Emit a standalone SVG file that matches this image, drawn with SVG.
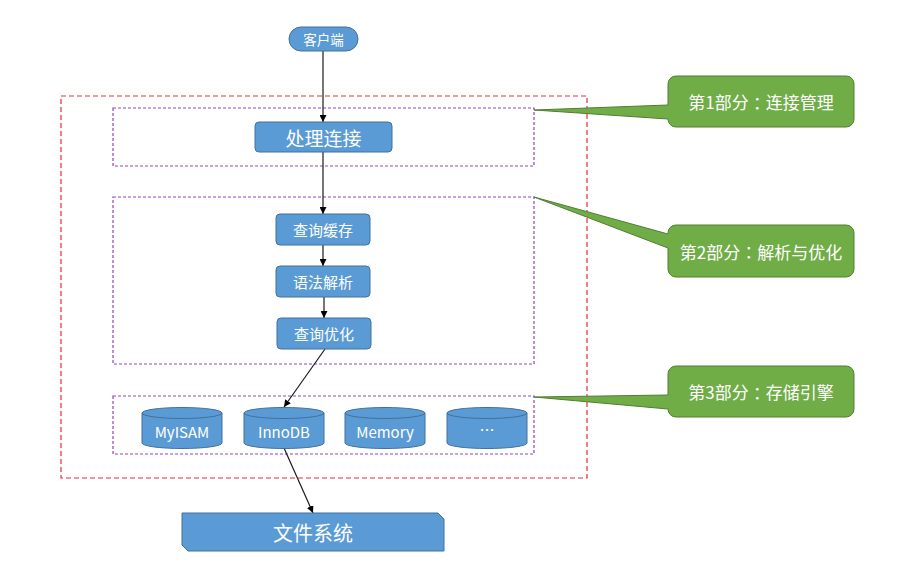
<svg xmlns="http://www.w3.org/2000/svg" width="911" height="583" viewBox="0 0 911 583">
<defs>
<style>
.blue{fill:#5B9BD5;stroke:#41719C;stroke-width:1}
.green{fill:#70AD47;stroke:#507E32;stroke-width:1}
.t{font-family:"Noto Sans CJK SC","Liberation Sans",sans-serif;fill:#fff;text-anchor:middle;dominant-baseline:central}
.c{font-family:"Noto Sans CJK TC","Noto Sans CJK SC",sans-serif}
.red{fill:none;stroke:#E0303A;stroke-width:1.2;stroke-dasharray:5,3}
.pur{fill:none;stroke:#8E44C8;stroke-width:1.2;stroke-dasharray:3,2}
.conn{fill:none;stroke:#1a1a1a;stroke-width:1.2;marker-end:url(#ah)}
</style>
<marker id="ah" viewBox="0 0 10 10" refX="10" refY="5" markerWidth="7" markerHeight="7" markerUnits="userSpaceOnUse" orient="auto">
<path d="M0,0 L10,5 L0,10 Z" fill="#000"/>
</marker>
</defs>
<rect width="911" height="583" fill="#fff"/>
<g id="frames">
<rect class="red" x="61" y="96" width="526" height="382"/>
<rect class="pur" x="113" y="108" width="421" height="58"/>
<rect class="pur" x="113" y="197" width="421" height="167"/>
<rect class="pur" x="113" y="396" width="421" height="58"/>
</g>
<g id="connectors">
<line class="conn" x1="323" y1="51" x2="323" y2="122"/>
<line class="conn" x1="323" y1="152" x2="323" y2="214"/>
<line class="conn" x1="323" y1="245" x2="323" y2="266"/>
<line class="conn" x1="324" y1="297" x2="324" y2="318"/>
<line class="conn" x1="325" y1="349" x2="284" y2="407"/>
<line class="conn" x1="284" y1="448" x2="313" y2="513"/>
</g>
<g id="client">
<rect class="blue" x="289" y="27" width="69" height="24" rx="12"/>
<text class="t" x="323.5" y="39" font-size="13.5">客户端</text>
</g>
<g id="conn-handle">
<rect class="blue" x="255" y="122" width="137" height="30" rx="4"/>
<text class="t" x="323.5" y="137" font-size="19">处理连接</text>
</g>
<g id="query-cache">
<rect class="blue" x="276" y="214" width="94" height="31" rx="4"/>
<text class="t" x="323" y="229.5" font-size="15">查询缓存</text>
</g>
<g id="parse">
<rect class="blue" x="276" y="266" width="94" height="31" rx="4"/>
<text class="t" x="323" y="281.5" font-size="15">语法解析</text>
</g>
<g id="optimize">
<rect class="blue" x="277" y="318" width="94" height="31" rx="4"/>
<text class="t" x="324" y="333.5" font-size="15">查询优化</text>
</g>
<g id="myisam">
<path class="blue" d="M142,413 A40,5.5 0 0 1 222,413 V443 A40,5.5 0 0 1 142,443 Z"/>
<path d="M142,413 A40,5.5 0 0 0 222,413" fill="none" stroke="#41719C"/>
<text class="t" x="182" y="431" font-size="15">MyISAM</text>
</g>
<g id="innodb">
<path class="blue" d="M244,413 A40,5.5 0 0 1 324,413 V443 A40,5.5 0 0 1 244,443 Z"/>
<path d="M244,413 A40,5.5 0 0 0 324,413" fill="none" stroke="#41719C"/>
<text class="t" x="284" y="431" font-size="15">InnoDB</text>
</g>
<g id="memory">
<path class="blue" d="M345,413 A40,5.5 0 0 1 425,413 V443 A40,5.5 0 0 1 345,443 Z"/>
<path d="M345,413 A40,5.5 0 0 0 425,413" fill="none" stroke="#41719C"/>
<text class="t" x="385" y="431" font-size="15">Memory</text>
</g>
<g id="more">
<path class="blue" d="M447,413 A40,5.5 0 0 1 527,413 V443 A40,5.5 0 0 1 447,443 Z"/>
<path d="M447,413 A40,5.5 0 0 0 527,413" fill="none" stroke="#41719C"/>
<text class="t" x="487" y="429" font-size="15">…</text>
</g>
<g id="filesystem">
<path class="blue" d="M182,513 H438 L444,519 V551 H188 L182,545 Z"/>
<text class="t" x="313" y="532" font-size="20">文件系统</text>
</g>
<g id="callout1">
<path class="green" d="M676,76 H846 A8,8 0 0 1 854,84 V119 A8,8 0 0 1 846,127 H676 A8,8 0 0 1 668,119 L534,110 L668,105 V84 A8,8 0 0 1 676,76 Z"/>
<text class="t" x="761" y="101.5" font-size="17">第1部分<tspan class="c">：</tspan>连接管理</text>
</g>
<g id="callout2">
<path class="green" d="M676,225 H846 A8,8 0 0 1 854,233 V269 A8,8 0 0 1 846,277 H676 A8,8 0 0 1 668,269 V248 L534,197 L668,234 V233 A8,8 0 0 1 676,225 Z"/>
<text class="t" x="761" y="251" font-size="17">第2部分<tspan class="c">：</tspan>解析与优化</text>
</g>
<g id="callout3">
<path class="green" d="M676,366 H846 A8,8 0 0 1 854,374 V409 A8,8 0 0 1 846,417 H676 A8,8 0 0 1 668,409 L534,397 L668,395 V374 A8,8 0 0 1 676,366 Z"/>
<text class="t" x="761" y="391.5" font-size="17">第3部分<tspan class="c">：</tspan>存储引擎</text>
</g>
</svg>
